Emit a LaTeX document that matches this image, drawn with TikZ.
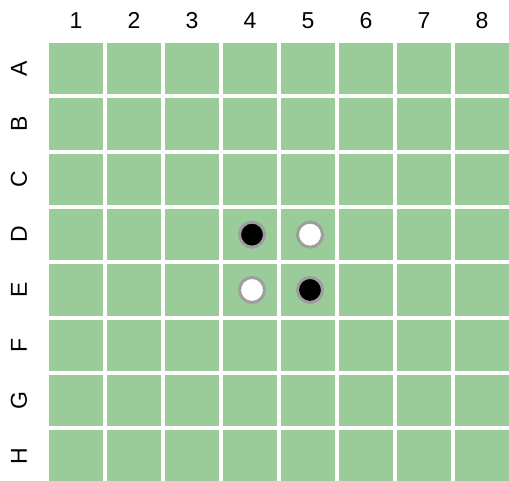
\documentclass[tikz,border=0pt]{standalone}
\usepackage{fontspec}
\setmainfont{Liberation Sans}
\usetikzlibrary{positioning}
\definecolor{boardgreen}{RGB}{153,204,153}
\definecolor{ringgray}{RGB}{158,158,158}
\tikzset{
  cell/.style={
    rectangle, fill=boardgreen, inner sep=0pt, outer sep=0pt,
    minimum width=54pt, minimum height=51.5pt
  },
  collabel/.style={
    inner sep=0pt, font=\fontsize{23}{23}\selectfont
  },
  rowlabel/.style={
    collabel, rotate=90
  },
  stoneB/.style={
    circle, fill=black, draw=ringgray, line width=3pt,
    minimum size=25pt, inner sep=0pt
  },
  stoneW/.style={
    stoneB, fill=white
  }
}

\begin{document}
\begin{tikzpicture}[x=1pt, y=-1pt]
  \useasboundingbox[fill=white] (0,0) rectangle (509,481);

  % board cells
  \foreach \r [count=\i from 0] in {A,B,C,D,E,F,G,H} {
    \foreach \c in {1,...,8} {
      \node[cell] (cell-\r\c) at ({76+58*(\c-1)}, {68.75+55.3*\i}) {};
    }
  }

  % coordinates
  \foreach \c in {1,...,8}
    \node[collabel] (col\c) at ({76+58*(\c-1)}, 20.5) {\c};
  \foreach \r [count=\i from 0] in {A,B,C,D,E,F,G,H}
    \node[rowlabel] (row\r) at (19, {68.75+55.3*\i}) {\r};

  % starting stones
  \node[stoneB, xshift=2pt] (d4) at (cell-D4) {};
  \node[stoneW, xshift=2pt] (d5) at (cell-D5) {};
  \node[stoneW, xshift=2pt] (e4) at (cell-E4) {};
  \node[stoneB, xshift=2pt] (e5) at (cell-E5) {};
\end{tikzpicture}
\end{document}
